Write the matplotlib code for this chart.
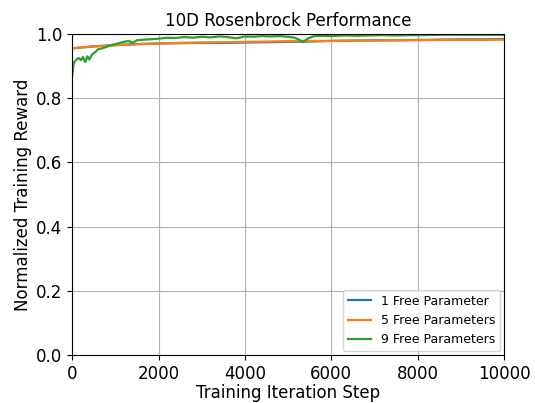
import matplotlib
matplotlib.use('Agg')
import matplotlib.pyplot as plt

# Values
steps_green = [0, 30, 60, 100, 150, 200, 250, 300, 350, 400, 450, 500, 550, 600, 700, 800,
               900, 1000, 1100, 1200, 1300, 1400, 1500, 1650, 1800, 2000, 2200, 2400, 2600,
               2800, 3000, 3200, 3400, 3600, 3800, 4000, 4200, 4400, 4600, 4800, 5000, 5150,
               5250, 5350, 5450, 5600, 5800, 6000, 6300, 6600, 6900, 7200, 7500, 7800, 8100,
               8500, 9000, 9500, 10000]
green = [0.87, 0.905, 0.915, 0.92, 0.925, 0.918, 0.928, 0.912, 0.93, 0.92, 0.935, 0.94,
         0.945, 0.952, 0.955, 0.96, 0.965, 0.968, 0.972, 0.975, 0.978, 0.972, 0.98, 0.982,
         0.983, 0.985, 0.988, 0.987, 0.99, 0.988, 0.991, 0.989, 0.992, 0.99, 0.986, 0.992,
         0.991, 0.993, 0.992, 0.993, 0.991, 0.988, 0.982, 0.975, 0.985, 0.993, 0.994, 0.993,
         0.995, 0.994, 0.995, 0.996, 0.995, 0.996, 0.996, 0.997, 0.997, 0.997, 0.997]

steps_other = [0, 250, 500, 1000, 1500, 2000, 2500, 3000, 3500, 4000, 4500, 5000, 5500,
               6000, 6500, 7000, 7500, 8000, 8500, 9000, 9500, 10000]
orange = [0.955, 0.958, 0.961, 0.965, 0.968, 0.97, 0.972, 0.973, 0.974, 0.975, 0.976, 0.977,
          0.978, 0.978, 0.979, 0.979, 0.98, 0.98, 0.981, 0.981, 0.981, 0.982]
blue = [0.955, 0.958, 0.961, 0.965, 0.968, 0.97, 0.971, 0.972, 0.972, 0.973, 0.974, 0.975,
        0.976, 0.978, 0.979, 0.98, 0.98, 0.981, 0.982, 0.983, 0.983, 0.984]

fig = plt.figure(figsize=(5.35, 4.03), dpi=100)
ax = fig.add_axes([0.135, 0.119, 0.807, 0.797])

ax.plot(steps_other, blue, color='#1f77b4', lw=1.6, label='1 Free Parameter')
ax.plot(steps_other, orange, color='#ff7f0e', lw=1.6, label='5 Free Parameters')
ax.plot(steps_green, green, color='#2ca02c', lw=1.6, label='9 Free Parameters')

ax.set_xlim(0, 10000)
ax.set_ylim(0, 1.0)
ax.set_title('10D Rosenbrock Performance', fontsize=12, pad=6)
ax.set_xlabel('Training Iteration Step', fontsize=12, labelpad=1)
ax.set_ylabel('Normalized Training Reward', fontsize=12, labelpad=3)
ax.tick_params(labelsize=12)
ax.grid(True)
ax.legend(loc='lower right', fontsize=9, borderaxespad=0.3, handlelength=1.8)

fig.savefig('out.png', dpi=100)
